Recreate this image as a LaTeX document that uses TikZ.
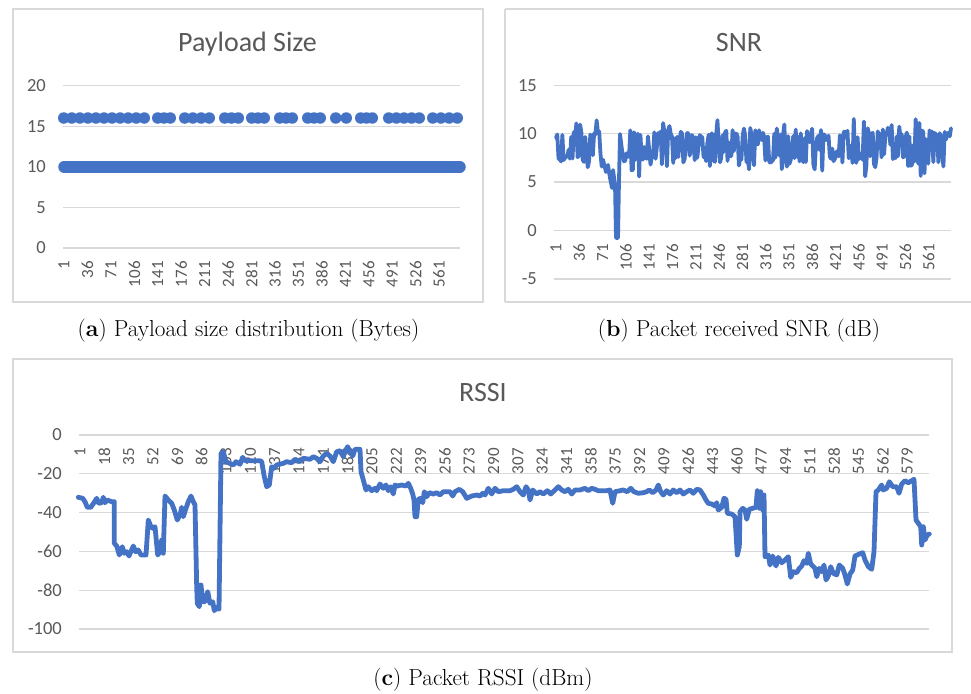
\documentclass[tikz,border=0pt]{standalone}
\usepackage{fontspec}
\newfontfamily\chartfont{Carlito}
\definecolor{series}{HTML}{4472C4}
\definecolor{axisgray}{HTML}{595959}
\definecolor{gridgray}{HTML}{D9D9D9}
\tikzset{
  panel/.style={draw=gridgray, line width=1.3pt},
  gridline/.style={draw=gridgray, line width=1.3pt},
  charttitle/.style={font=\chartfont\fontsize{28}{30}\selectfont, text=axisgray, anchor=base, inner sep=0pt},
  ylab/.style={font=\chartfont\fontsize{18.5}{20}\selectfont, text=axisgray, anchor=east, inner sep=0pt},
  xlab/.style={font=\chartfont\fontsize{17}{18}\selectfont, text=axisgray, anchor=east, rotate=90, inner sep=0pt},
  series line/.style={draw=series, line width=4.8pt, line join=round, line cap=round},
  caption/.style={font=\fontsize{23.2}{26}\selectfont, anchor=base, inner sep=0pt},
}
% SNR sample: two-level jitter around the mean plus rare spikes
\pgfmathdeclarefunction{snrval}{0}{%
  \begingroup
  \pgfmathparse{8.65+ifthenelse(rand>0,1,-1)*(0.9+0.8*rnd)+2.6*rand*rand*rand}%
  \pgfmathsmuggle\pgfmathresult
  \endgroup}
\begin{document}
\begin{tikzpicture}[x=1pt, y=-1pt]
\useasboundingbox (0,0) rectangle (971,693);
\fill[white] (0,0) rectangle (971,693);

% ---------------- (a) Payload size ----------------
\draw[panel] (13,9) rectangle (483,302);
\node[charttitle] (titleA) at (247.5,52) {Payload Size};
\foreach \v in {0,5,...,20}{
  \draw[gridline] (63,{248-8.12*\v}) -- (460,{248-8.12*\v});
  \node[ylab] at (46,{248-8.12*\v}) {\v};
}
\foreach \k in {0,...,16}{
  \pgfmathtruncatemacro\lab{1+35*\k}
  \node[xlab] at ({64+23.44*\k},261) {\lab};
}
% 10-byte packets: a continuous run of markers
\draw[series, line width=11.5pt, line cap=round] (64,166.8) -- (460,166.8);
% 16-byte packets: runs of markers with gaps
\foreach \a/\b in {58/150,152/176,179/215,219/244,246/270,274/298,302/326,330/352,355/378,383/425,427/463}{
  \pgfmathtruncatemacro\n{max(1,round((\b-\a-11)/8))}
  \foreach \k in {0,...,\n}{
    \fill[series] ({\a+5.75+(\b-\a-11.5)*\k/\n},118) circle[radius=5.75];
  }
}
\node[caption] (capA) at (248.5,336) {(\textbf{a}) Payload size distribution (Bytes)};

% ---------------- (b) SNR ----------------
\draw[panel] (505,9) -- (975,9);
\draw[panel] (505,302) -- (975,302);
\draw[panel] (505,9) -- (505,302);
\node[charttitle] (titleB) at (739,52) {SNR};
\foreach \v in {-5,0,...,15}{
  \draw[gridline] (554,{230.5-9.68*\v}) -- (951,{230.5-9.68*\v});
  \node[ylab] at (537,{230.5-9.68*\v}) {\v};
}
\foreach \k in {0,...,16}{
  \pgfmathtruncatemacro\lab{1+35*\k}
  \node[xlab] at ({556+23.3*\k},244) {\lab};
}
\pgfmathsetseed{31}
\draw[series line, line width=3.8pt]
  plot[domain=556:603, samples=38] (\x,{230.5-9.68*snrval})
  -- (606,172) -- (608,165) -- (610,178) -- (612,188) -- (613,170) -- (615,184)
  -- (616,238) -- (618,238) -- (619,180) -- (620,134) -- (622,150)
  -- plot[domain=624:951, samples=260] (\x,{230.5-9.68*snrval});
\node[caption] (capB) at (739,336) {(\textbf{b}) Packet received SNR (dB)};

% ---------------- (c) RSSI ----------------
\draw[panel] (13,359) rectangle (952,652);
\node[charttitle] (titleC) at (483,401) {RSSI};
\foreach \v in {0,-20,...,-100}{
  \draw[gridline] (79,{435-1.94*\v}) -- (929,{435-1.94*\v});
  \node[ylab] at (62,{435-1.94*\v}) {\v};
}
\foreach \k in {0,...,34}{
  \pgfmathtruncatemacro\lab{1+17*\k}
  \node[xlab] at ({80+24.33*\k},448) {\lab};
}
\draw[series line] plot coordinates {
  (78.3,497.3) (82.7,498.3) (85,501.7) (87.3,507.3) (90.7,507.3) (94,502.7)
  (96.7,498.3) (98.7,503.3) (101.7,502.7) (103.3,497.3) (105,502.7) (107.3,500)
  (111.7,501.7) (114.3,501.7) (114.3,543.3) (116.7,546) (119.3,555) (122.3,546.7)
  (124.3,553.3) (126.7,551.7) (129,556) (133.3,546) (135.7,551.7) (138.3,550)
  (141,555) (146,555) (148.3,520) (150.7,526) (152.7,528.3) (155,526.7)
  (157.7,555) (160,551.7) (161.7,540) (163.3,553.3) (165,496) (168.3,500)
  (171.7,503.3) (174.3,510) (177.3,520) (180,515) (181.7,507.3) (183.3,516.7)
  (186,508.3) (188.3,501.7) (191,496) (193.3,501.7) (195,505) (196.7,586.7)
  (197.3,603.3) (199.3,606.7) (201,585) (202.7,601.7) (205,601.7) (207.7,591.7)
  (210,603.3) (212.7,601.7) (214.3,610.7) (216.7,607.3) (219,609.3) (221,453.3)
  (223.3,451.7) (226,461.7) (233.3,465) (236,461.7) (240,464.3) (242.7,457.3)
  (245,460.7) (260,460.7) (261.7,461.7) (264.3,476.7) (266.7,486.7) (269.3,485)
  (271.7,466.7) (274,468.3) (276.7,465) (283.3,463.3)
  (286.7,461.7) (291.7,462.7) (295,459.3) (300,461.7) (303.3,458.3) (310,459.3)
  (313.3,456.7) (316.7,458.3) (320,461.7) (323.3,456) (326.7,453.3) (330,456)
  (333.3,461.7) (336.7,451.7) (340,450.7) (343.3,456.7) (345.7,450) (347.7,446.7)
  (350,451.7) (352.7,456) (355,449.3) (360,449.3) (361,471.7) (363.3,480)
  (366,490) (368.3,486.7) (371.7,490.7) (375,488.3) (376.7,490.7) (380,484)
  (383.3,488.3) (386,485) (388.3,490.7) (390.7,486.7) (393.3,494) (395,485)
  (397.3,486) (401.7,485) (406,486) (408.3,483.3) (410.7,488.3) (412.7,494)
  (414,500) (415,516.7) (416.7,516.7) (418.3,499.3) (420.7,498.3) (422.7,502.7)
  (424.3,491.7) (426.7,496.7) (429.3,492.7) (433.3,494) (436.7,492.7) (440,495)
  (443.3,491.7) (450,491.7) (452.7,496) (455,491.7) (459.3,489.3) (462.7,491.7)
  (466.7,498.3) (471.7,496) (476.7,495) (480,496) (482.7,493.3) (485,495)
  (488.3,488.3) (491.7,494) (495,488.3) (498.3,491.7)
  (503.3,490.7) (510,490.7) (513.3,489.3) (516.7,486.7) (520,491.7) (523.3,495)
  (526,486.7) (528.3,490) (530,500) (532.7,490) (536.7,494) (540,491.7)
  (543.3,494) (547.3,490.7) (550.7,494) (555,490) (558.3,486.7) (561.7,490)
  (565,491.7) (568.3,489.3) (571.7,494) (575,490) (580,490) (585,488.3)
  (588.3,490.7) (591.7,488.3) (595,489.3) (598.3,490.7) (606.7,490.7) (610,490)
  (612.7,503.3) (615,491.7) (620,490.7) (623.3,490) (627.3,491.7) (630.7,488.3)
  (634,491.7) (638.3,493.3) (643.3,492.7) (646.7,491.7) (649.3,490) (652.7,492.7)
  (656,490) (658.3,485) (660.7,491.7) (663.3,495) (666.7,490.7) (670,494)
  (673.3,490) (676.7,492.7) (680,490) (683.3,494) (686.7,491.7) (690,490)
  (693.3,493.3) (696.7,489.3)
  (700,490) (703.3,495) (706,500) (708.3,503.3) (711.7,504) (715,506)
  (716.7,502.7) (718.3,510) (721.7,507.3) (724,498.3) (726,499.3) (727.3,513.3)
  (731.7,514) (735,516.7) (737.3,555) (739.3,546.7) (740,511.7) (742.7,508.3)
  (745,510) (746.7,519.3) (749.3,509.3) (752.7,508.3) (756,507.3) (757.3,490.7)
  (759.3,508.3) (760.7,491.7) (762.7,510) (764,495) (765,556.7) (768.3,555)
  (770,565) (772.7,556) (776,566) (778.3,557.3) (781.7,562.7) (785,560)
  (788.3,556.7) (790.7,577.3) (793.3,571.7) (796.7,572.7) (799.3,568.3) (801.7,566)
  (804,560.7) (806.7,563.3) (808.3,553.3) (810.7,564) (815,568.3) (816.7,576.7)
  (819.3,568.3) (821.7,571.7) (824,565) (826,580) (828.3,576) (830.7,566.7)
  (833.3,573.3) (836.7,575) (839.3,565) (842.7,568.3) (845,575) (847.3,584)
  (850,574) (852.7,570) (855,556) (859.3,554) (862.7,552.7) (865,560)
  (868.3,566.7) (871.7,569.3) (874,551.7) (876,491.7) (878.3,490) (881.7,485)
  (883.3,490) (886.7,488.3) (889.3,481.7) (892.7,486.7) (896.7,486.7) (899,493.3)
  (901.7,484) (905,480.7) (908.3,482.7) (911.7,480.7) (914,479.3) (916,520)
  (918.3,523.3) (920.7,526.7) (921.7,545) (923.3,526.7) (925,540) (927.3,535)
  (929.3,534)
};
\node[caption] (capC) at (483,685) {(\textbf{c}) Packet RSSI (dBm)};
\end{tikzpicture}
\end{document}
